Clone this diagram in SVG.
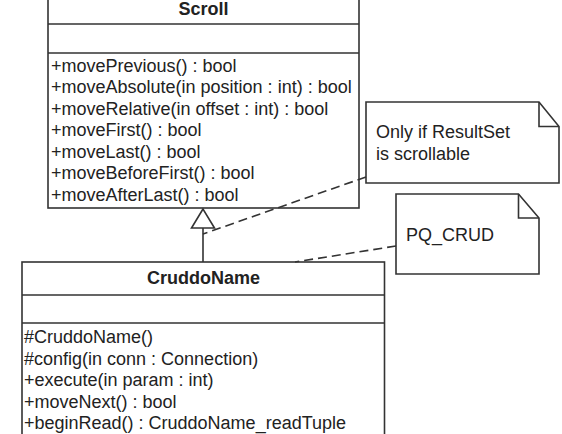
<svg xmlns="http://www.w3.org/2000/svg" width="562" height="434" viewBox="0 0 562 434">
<style>
.box{fill:#fff;stroke:#333;stroke-width:1.6}
.ln{fill:none;stroke:#333;stroke-width:1.6}
.dash{fill:none;stroke:#333;stroke-width:1.6;stroke-dasharray:9 5}
text{font-family:"Liberation Sans",Arial,sans-serif;font-size:18px;fill:#222}
.t{font-weight:bold;text-anchor:middle}
</style>
<rect width="562" height="434" fill="#fff"/>
<g id="Scroll">
<rect class="box" x="48" y="-9" width="311" height="217"/>
<path class="ln" d="M48,24 H359 M48,53 H359"/>
<text class="t" x="203.5" y="14.5">Scroll</text>
<text x="51" y="71.5">+movePrevious() : bool</text>
<text x="51" y="93">+moveAbsolute(in position : int) : bool</text>
<text x="51" y="114.5">+moveRelative(in offset : int) : bool</text>
<text x="51" y="136">+moveFirst() : bool</text>
<text x="51" y="157.5">+moveLast() : bool</text>
<text x="51" y="179">+moveBeforeFirst() : bool</text>
<text x="51" y="200.5">+moveAfterLast() : bool</text>
</g>
<g id="CruddoName">
<rect class="box" x="22" y="262" width="362.5" height="190"/>
<path class="ln" d="M22,295 H384.5 M22,323 H384.5"/>
<text class="t" x="203.5" y="284">CruddoName</text>
<text x="24" y="343">#CruddoName()</text>
<text x="24" y="364.5">#config(in conn : Connection)</text>
<text x="24" y="386">+execute(in param : int)</text>
<text x="24" y="407.5">+moveNext() : bool</text>
<text x="24" y="429">+beginRead() : CruddoName_readTuple</text>
</g>
<g id="note1">
<path class="box" d="M366,102 H539 L559,126.5 V183 H366 Z"/>
<path class="ln" d="M539,102 V126.5 H559"/>
<text x="376" y="138">Only if ResultSet</text>
<text x="376" y="159.5">is scrollable</text>
</g>
<g id="note2">
<path class="box" d="M396,194 H518.5 L539,218 V274 H396 Z"/>
<path class="ln" d="M518.5,194 V218 H539"/>
<text x="406" y="240.5">PQ_CRUD</text>
</g>
<g id="connectors">
<path class="ln" d="M203,262 V228"/>
<path class="box" d="M203,209 L191.5,228 L214.5,228 Z"/>
<path class="dash" d="M366,177 L203,234"/>
<path class="dash" d="M396,246 L295,262"/>
</g>
</svg>
